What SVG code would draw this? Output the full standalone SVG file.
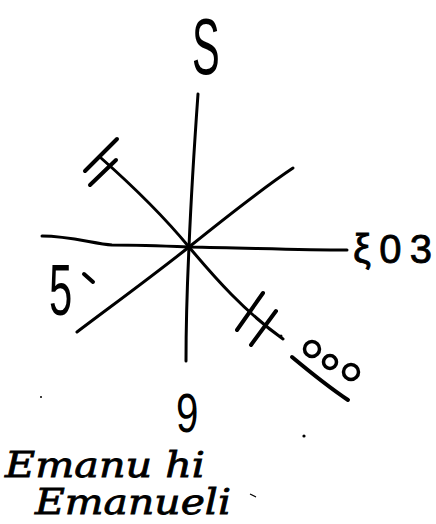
<svg xmlns="http://www.w3.org/2000/svg" width="436" height="524" viewBox="0 0 436 524">
<style>
.ln{fill:none;stroke:#000;stroke-width:3;stroke-linecap:round;stroke-linejoin:round}
.tk{fill:none;stroke:#000;stroke-width:4;stroke-linecap:round}
.lbl{font-family:"Liberation Sans","DejaVu Sans",sans-serif;fill:#000}
.hand{font-family:"DejaVu Serif","Liberation Serif",serif;font-style:italic;fill:#000;stroke:#000;stroke-width:0.8}
.dot{fill:#000}
</style>
<rect width="436" height="524" fill="#fff"/>
<g id="connectors">
<path class="ln" d="M198,94 C194,150 191,200 189,247 C187,290 186,330 186,361"/>
<path class="ln" d="M42,236 C70,236 95,244 112,245 C140,245 165,246 189,247 C250,248 300,250 347,250"/>
<path class="ln" d="M293,168 C260,190 225,218 189,247 C150,278 110,307 77,332"/>
<path class="ln" d="M101,158 C135,188 165,218 189,247 C215,278 245,312 283,339"/>
<path class="tk" d="M85,171 L117,139 M90,185 L116,160"/>
<path class="tk" d="M237,330 L263,293 M251,345 L276,311"/>
</g>
<g id="node-S"><text class="lbl" transform="translate(192,74) scale(0.52,1)" font-size="80">S</text></g>
<g id="node-xi03"><text class="lbl" x="353" y="263" font-size="40" stroke="#000" stroke-width="0.8" textLength="79" lengthAdjust="spacing">ξ03</text></g>
<g id="node-5"><text class="lbl" transform="translate(49,315) scale(0.58,1)" font-size="72">5</text><path class="tk" d="M84,274 L93,282"/></g>
<g id="node-ooo">
<circle cx="312" cy="349" r="7.5" fill="none" stroke="#000" stroke-width="3.5"/>
<circle cx="330" cy="362" r="6.5" fill="none" stroke="#000" stroke-width="3.5"/>
<circle cx="351" cy="372" r="7.5" fill="none" stroke="#000" stroke-width="3.5"/>
<path class="tk" d="M292,357 C310,372 330,388 348,400"/>
</g>
<g id="node-9"><text class="lbl" transform="translate(176,432) scale(0.72,1)" font-size="56">9</text></g>
<g id="node-name">
<text class="hand" x="5" y="477" font-size="36" textLength="200" lengthAdjust="spacingAndGlyphs">Emanu hi</text>
<text class="hand" x="35" y="514" font-size="36" textLength="196" lengthAdjust="spacingAndGlyphs">Emanueli</text>
</g>
<g id="specks">
<circle class="dot" cx="41" cy="397" r="1"/>
<circle class="dot" cx="304" cy="436" r="1.6"/>
<circle class="dot" cx="281" cy="336" r="1.5"/>
<path d="M250,494 L256,497" stroke="#000" stroke-width="1.2"/>
</g>
</svg>
